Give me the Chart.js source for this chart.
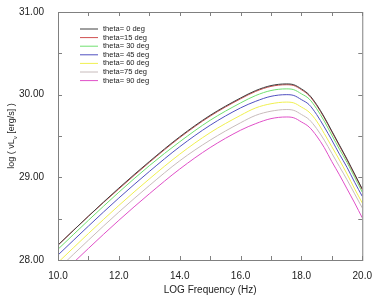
<!DOCTYPE html>
<html>
<head>
<meta charset="utf-8">
<script src="https://cdn.jsdelivr.net/npm/chart.js@4.4.0/dist/chart.umd.min.js"></script>
<style>
  html, body { margin: 0; padding: 0; background: #fff; }
  #wrap { width: 374px; height: 296px; }
</style>
</head>
<body>
<div id="wrap"><canvas id="sedChart" width="374" height="296"></canvas></div>
<script>
// log frequency grid (Hz)
const logFreq = [10, 11, 12, 13, 14, 15, 16, 16.5, 17, 17.5, 17.75, 18, 18.25, 18.5, 18.75, 19, 19.25, 19.5, 19.75, 20];

// log(nu L_nu) for each viewing angle
const theta0  = [28.18, 28.53, 28.87, 29.19, 29.49, 29.75, 29.96, 30.05, 30.11, 30.13, 30.12, 30.07, 30.00, 29.88, 29.73, 29.56, 29.39, 29.22, 29.04, 28.86];
const theta15 = [28.18, 28.53, 28.86, 29.18, 29.48, 29.74, 29.95, 30.04, 30.10, 30.12, 30.11, 30.06, 29.99, 29.87, 29.72, 29.55, 29.38, 29.21, 29.03, 28.85];
const theta30 = [28.13, 28.48, 28.82, 29.14, 29.43, 29.69, 29.90, 29.99, 30.05, 30.07, 30.06, 30.01, 29.95, 29.83, 29.68, 29.51, 29.34, 29.18, 29.00, 28.82];
const theta45 = [28.06, 28.41, 28.75, 29.07, 29.37, 29.63, 29.84, 29.92, 29.98, 30.00, 29.99, 29.94, 29.88, 29.76, 29.61, 29.45, 29.28, 29.12, 28.94, 28.77];
const theta60 = [27.97, 28.32, 28.66, 28.98, 29.28, 29.54, 29.75, 29.84, 29.89, 29.91, 29.90, 29.85, 29.79, 29.68, 29.53, 29.37, 29.21, 29.04, 28.86, 28.69];
const theta75 = [27.89, 28.24, 28.58, 28.90, 29.20, 29.45, 29.66, 29.75, 29.80, 29.82, 29.81, 29.76, 29.70, 29.59, 29.45, 29.29, 29.13, 28.97, 28.80, 28.63];
const theta90 = [27.79, 28.14, 28.48, 28.80, 29.10, 29.36, 29.57, 29.65, 29.71, 29.73, 29.72, 29.67, 29.61, 29.50, 29.36, 29.19, 29.03, 28.86, 28.69, 28.51];

const seriesLabels = ['theta= 0 deg', 'theta=15 deg', 'theta= 30 deg', 'theta= 45 deg', 'theta= 60 deg', 'theta=75 deg', 'theta= 90 deg'];
const seriesValues = [theta0, theta15, theta30, theta45, theta60, theta75, theta90];
const seriesColors = ['#404040', '#d05050', '#70e070', '#5050c0', '#f0f050', '#c8bcbc', '#e050c8'];

const yTicks = [28, 29, 30, 31];
const xTickStep = 2;

const FONT = 'Liberation Sans, Arial, Helvetica, sans-serif';

// legend drawn inside the plot area (top-left)
const insideLegend = {
    id: 'insideLegend',
    afterDatasetsDraw(chart) {
        const c = chart.ctx;
        const area = chart.chartArea;
        c.save();
        c.font = '7.5px ' + FONT;
        c.textBaseline = 'middle';
        chart.data.datasets.forEach((ds, i) => {
            const y = area.top + 17 + i * 8.6;
            c.strokeStyle = ds.borderColor;
            c.lineWidth = 1;
            c.beginPath();
            c.moveTo(area.left + 22, y);
            c.lineTo(area.left + 40, y);
            c.stroke();
            c.fillStyle = '#222';
            c.fillText(ds.label, area.left + 45, y);
        });
        c.restore();
    }
};

// frame and inward ticks on all four sides
const frameTicks = {
    id: 'frameTicks',
    afterDraw(chart) {
        const c = chart.ctx;
        const a = chart.chartArea;
        const xs = chart.scales.x, ys = chart.scales.y;
        c.save();
        c.strokeStyle = '#808080';
        c.lineWidth = 1;
        c.strokeRect(a.left + 0.5, a.top + 0.5, a.right - a.left, a.bottom - a.top);
        c.beginPath();
        for (let v = xs.min; v <= xs.max + 1e-9; v += 1) {
            const px = Math.round(xs.getPixelForValue(v)) + 0.5;
            c.moveTo(px, a.bottom); c.lineTo(px, a.bottom - 4);
            c.moveTo(px, a.top); c.lineTo(px, a.top + 4);
        }
        for (let v = ys.min; v <= ys.max + 1e-9; v += 0.5) {
            const py = Math.round(ys.getPixelForValue(v)) + 0.5;
            c.moveTo(a.left, py); c.lineTo(a.left + 4, py);
            c.moveTo(a.right, py); c.lineTo(a.right - 4, py);
        }
        c.stroke();

        // y axis title with subscript nu
        c.fillStyle = '#222';
        c.translate(12, (a.top + a.bottom) / 2);
        c.rotate(-Math.PI / 2);
        c.textBaseline = 'middle';
        const p1 = 'log ( \u03BDL', sub = '\u03BD', p2 = ' [erg/s] )';
        c.font = '9px ' + FONT;
        const w1 = c.measureText(p1).width, w3 = c.measureText(p2).width;
        c.font = '6px ' + FONT;
        const w2 = c.measureText(sub).width;
        let x0 = -(w1 + w2 + w3) / 2;
        c.font = '9px ' + FONT;
        c.fillText(p1, x0, 0);
        c.font = '6px ' + FONT;
        c.fillText(sub, x0 + w1, 3);
        c.font = '9px ' + FONT;
        c.fillText(p2, x0 + w1 + w2, 0);
        c.restore();
    }
};

const ctx = document.getElementById('sedChart').getContext('2d');
const sedChart = new Chart(ctx, {
    type: 'line',
    data: {
        datasets: seriesValues.map((vals, i) => ({
            label: seriesLabels[i],
            data: vals.map((v, j) => ({ x: logFreq[j], y: v })),
            borderColor: seriesColors[i],
            backgroundColor: seriesColors[i],
            borderWidth: 1,
            pointRadius: 0,
            cubicInterpolationMode: 'monotone',
            fill: false
        }))
    },
    options: {
        responsive: false,
        animation: false,
        layout: { padding: { top: 8, right: 11, left: 0, bottom: 0 } },
        plugins: {
            legend: { display: false },
            tooltip: { enabled: false }
        },
        scales: {
            x: {
                type: 'linear',
                min: 10,
                max: 20,
                grid: { display: false },
                border: { display: false },
                ticks: {
                    stepSize: xTickStep,
                    color: '#222',
                    font: { family: FONT, size: 10 },
                    padding: 2,
                    maxRotation: 0,
                    callback: v => v.toFixed(1)
                },
                title: {
                    display: true,
                    text: 'LOG Frequency (Hz)',
                    color: '#222',
                    font: { family: FONT, size: 10 },
                    padding: { top: 1, bottom: 0 }
                },
                afterFit: s => { s.height = 36; }
            },
            y: {
                min: 28,
                max: 31,
                grid: { display: false },
                border: { display: false },
                afterBuildTicks: s => { s.ticks = yTicks.map(v => ({ value: v })); },
                ticks: {
                    color: '#222',
                    font: { family: FONT, size: 10 },
                    padding: 6,
                    callback: v => v.toFixed(2)
                },
                afterFit: s => { s.width = 58; }
            }
        }
    },
    plugins: [insideLegend, frameTicks]
});
</script>
</body>
</html>
